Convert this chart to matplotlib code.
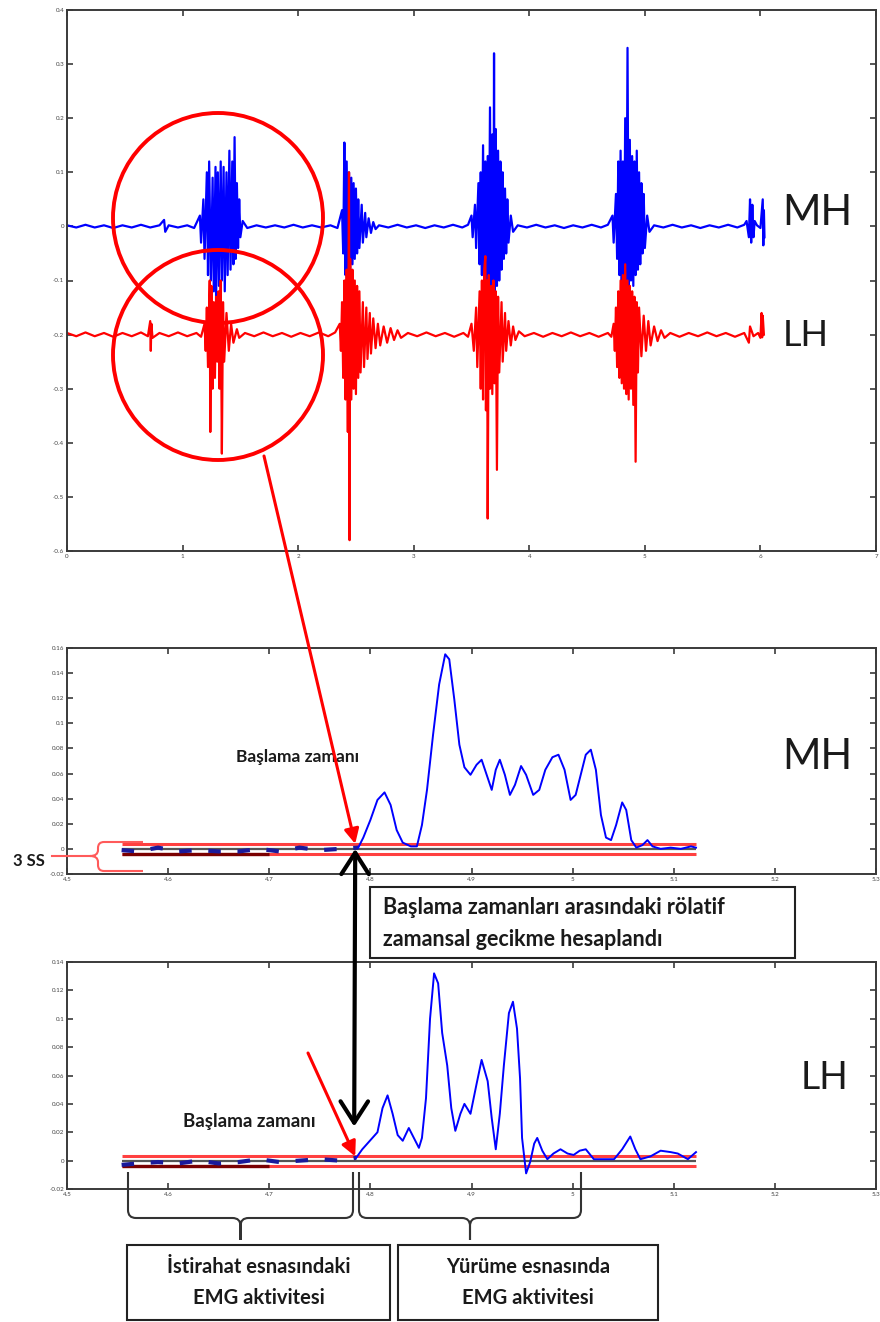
import matplotlib
matplotlib.use("Agg")
import matplotlib.pyplot as plt
import numpy as np
from matplotlib.patches import Circle, Rectangle, PathPatch, ConnectionPatch
from matplotlib.path import Path

plt.rcParams['font.family'] = ['Lato', 'DejaVu Sans']

# ---- raw EMG (top panel): sample times and amplitudes ----
mh_t = [0.00, 0.08, 0.16, 0.24, 0.32, 0.40, 0.48, 0.56, 0.64, 0.72, 0.80, 0.84, 0.85, 0.88, 0.96, 1.04, 1.10,
        1.15, 1.16, 1.18, 1.19, 1.21, 1.22, 1.23, 1.245, 1.26, 1.27, 1.285, 1.29, 1.305, 1.315, 1.33, 1.34,
        1.355, 1.365, 1.38, 1.39, 1.405, 1.415, 1.43, 1.44, 1.45, 1.46, 1.47, 1.48, 1.49, 1.50, 1.52,
        1.56, 1.64, 1.72, 1.80, 1.88, 1.96, 2.04, 2.12, 2.20, 2.28, 2.34,
        2.38, 2.39, 2.40, 2.41, 2.42, 2.43, 2.44, 2.45, 2.46, 2.47, 2.48, 2.49, 2.50, 2.51, 2.52, 2.53,
        2.55, 2.56, 2.58, 2.59, 2.61, 2.63, 2.65, 2.67,
        2.70, 2.78, 2.86, 2.94, 3.02, 3.10, 3.18, 3.26, 3.34, 3.42, 3.47,
        3.50, 3.51, 3.53, 3.54, 3.56, 3.57, 3.58, 3.59, 3.60, 3.61, 3.62, 3.63, 3.64, 3.65, 3.66, 3.67,
        3.68, 3.69, 3.695, 3.70, 3.71, 3.72, 3.73, 3.74, 3.75, 3.76, 3.77, 3.78, 3.79, 3.80, 3.81, 3.82,
        3.84, 3.86,
        3.90, 3.98, 4.06, 4.14, 4.22, 4.30, 4.38, 4.46, 4.54, 4.62, 4.68,
        4.72, 4.73, 4.75, 4.76, 4.77, 4.78, 4.79, 4.80, 4.81, 4.82, 4.83, 4.84, 4.85, 4.86, 4.87, 4.88,
        4.89, 4.90, 4.91, 4.92, 4.93, 4.94, 4.95, 4.96, 4.97, 4.98, 4.99, 5.00, 5.02, 5.04,
        5.08, 5.16, 5.24, 5.32, 5.40, 5.48, 5.56, 5.64, 5.72, 5.80, 5.86,
        5.88, 5.90, 5.91, 5.92, 5.93, 5.94, 5.95, 5.97, 6.00, 6.02, 6.025, 6.03, 6.035]
mh_v = [0.002, -0.002, 0.003, -0.002, 0.002, -0.003, 0.002, -0.002, 0.003, -0.002, 0.002, 0.012, -0.010, 0.002, -0.002, 0.002, -0.003,
        0.02, -0.03, 0.05, -0.06, 0.10, -0.09, 0.12, -0.10, 0.09, -0.12, 0.11, -0.135, 0.10, -0.11, 0.12, -0.10,
        0.11, -0.12, 0.10, -0.09, 0.14, -0.08, 0.12, -0.07, 0.165, -0.06, 0.08, -0.04, 0.05, -0.02, 0.01,
        -0.003, 0.002, -0.002, 0.002, -0.002, 0.003, -0.002, 0.002, -0.002, 0.002, -0.003,
        0.03, -0.05, 0.155, -0.09, 0.12, -0.10, 0.10, -0.08, 0.09, -0.07, 0.08, -0.06, 0.07, -0.05, 0.05, -0.04,
        0.04, -0.03, 0.025, -0.02, 0.015, -0.012, 0.008, -0.005,
        0.002, -0.002, 0.003, -0.002, 0.002, -0.003, 0.002, -0.002, 0.003, -0.002, 0.003,
        0.02, -0.02, 0.04, -0.04, 0.08, -0.07, 0.10, -0.09, 0.15, -0.10, 0.12, -0.11, 0.13, -0.10, 0.22, -0.12,
        0.17, -0.11, 0.32, -0.135, 0.18, -0.11, 0.14, -0.10, 0.12, -0.08, 0.10, -0.06, 0.07, -0.05, 0.05, -0.03,
        0.02, -0.01,
        0.002, -0.002, 0.003, -0.002, 0.002, -0.003, 0.002, -0.002, 0.003, -0.002, 0.003,
        0.02, -0.03, 0.06, -0.06, 0.12, -0.09, 0.14, -0.10, 0.12, -0.11, 0.20, -0.12, 0.33, -0.12, 0.16, -0.10,
        0.13, -0.11, 0.12, -0.09, 0.14, -0.08, 0.10, -0.07, 0.08, -0.05, 0.06, -0.04, 0.02, -0.01,
        0.002, -0.002, 0.003, -0.002, 0.002, -0.003, 0.002, -0.002, 0.003, -0.002, 0.003,
        0.01, -0.02, 0.05, -0.03, 0.04, -0.02, 0.01, 0.002, -0.003, 0.05, -0.035, 0.03, -0.02]

lh_t = [0.00, 0.08, 0.16, 0.24, 0.32, 0.40, 0.48, 0.56, 0.64, 0.70, 0.72, 0.725, 0.73, 0.74, 0.80, 0.88, 0.96, 1.04, 1.12, 1.16,
        1.19, 1.20, 1.21, 1.22, 1.235, 1.24, 1.25, 1.26, 1.27, 1.28, 1.29, 1.30, 1.31, 1.32, 1.33, 1.34,
        1.35, 1.36, 1.38, 1.40, 1.42, 1.44, 1.47, 1.49,
        1.54, 1.62, 1.70, 1.78, 1.86, 1.94, 2.02, 2.10, 2.18, 2.26, 2.32,
        2.36, 2.37, 2.38, 2.39, 2.40, 2.41, 2.42, 2.43, 2.44, 2.445, 2.45, 2.46, 2.47, 2.48, 2.49, 2.50,
        2.51, 2.52, 2.53, 2.54, 2.56, 2.57, 2.59, 2.60, 2.62, 2.63, 2.65, 2.67, 2.69, 2.71, 2.74, 2.77,
        2.80, 2.83, 2.86, 2.89,
        2.95, 3.03, 3.11, 3.19, 3.27, 3.35, 3.43, 3.47,
        3.50, 3.52, 3.54, 3.55, 3.57, 3.58, 3.59, 3.60, 3.61, 3.62, 3.625, 3.635, 3.64, 3.65, 3.66, 3.67,
        3.68, 3.69, 3.70, 3.71, 3.72, 3.73, 3.74, 3.76, 3.77, 3.79, 3.80, 3.82, 3.84, 3.86, 3.88, 3.91,
        3.96, 4.04, 4.12, 4.20, 4.28, 4.36, 4.44, 4.52, 4.60, 4.68, 4.71,
        4.73, 4.74, 4.75, 4.76, 4.77, 4.78, 4.79, 4.80, 4.81, 4.82, 4.83, 4.84, 4.85, 4.86, 4.87, 4.88,
        4.89, 4.90, 4.91, 4.92, 4.93, 4.94, 4.95, 4.97, 4.99, 5.01, 5.03, 5.05, 5.08, 5.11, 5.14, 5.17,
        5.22, 5.30, 5.38, 5.46, 5.54, 5.62, 5.70, 5.78, 5.86, 5.90, 5.91, 5.94, 5.98,
        6.00, 6.01, 6.015, 6.02, 6.03]
lh_v = [0.003, -0.003, 0.004, -0.003, 0.003, -0.004, 0.003, -0.003, 0.004, -0.003, 0.025, -0.03, 0.02, -0.006, 0.003, -0.003, 0.004, -0.003, 0.003, -0.004,
        0.02, -0.03, 0.05, -0.06, 0.10, -0.18, 0.09, -0.10, 0.06, -0.08, 0.07, -0.05, 0.08, -0.10, 0.10, -0.22,
        0.06, -0.05, 0.04, -0.03, 0.02, -0.015, 0.01, -0.006,
        0.003, -0.003, 0.004, -0.003, 0.003, -0.004, 0.003, -0.003, 0.004, -0.003, 0.004,
        0.02, -0.03, 0.06, -0.08, 0.10, -0.12, 0.12, -0.18, 0.30, -0.38, 0.14, -0.12, 0.12, -0.10, 0.10, -0.11,
        0.09, -0.08, 0.08, -0.07, 0.06, -0.06, 0.05, -0.045, 0.04, -0.035, 0.03, -0.025, 0.02, -0.02, 0.015, -0.015,
        0.012, -0.01, 0.008, -0.006,
        0.003, -0.003, 0.004, -0.003, 0.003, -0.004, 0.003, -0.004,
        0.02, -0.03, 0.05, -0.06, 0.08, -0.10, 0.10, -0.12, 0.12, 0.145, -0.14, 0.10, -0.34, 0.11, -0.10, 0.09,
        -0.11, 0.10, -0.09, 0.08, -0.25, 0.07, -0.07, 0.06, -0.05, 0.04, -0.03, 0.025, -0.02, 0.015, -0.01, 0.006,
        -0.003, 0.003, -0.004, 0.003, -0.003, 0.004, -0.003, 0.003, -0.004, 0.003, -0.004,
        0.02, -0.03, 0.05, -0.06, 0.08, -0.08, 0.10, -0.09, 0.11, -0.10, 0.13, -0.11, 0.10, -0.12, 0.09, -0.10,
        0.08, -0.13, 0.07, -0.235, 0.06, -0.07, 0.05, -0.04, 0.035, -0.03, 0.025, -0.02, 0.015, -0.012, 0.008, -0.006,
        0.003, -0.004, 0.003, -0.003, 0.004, -0.003, 0.003, -0.004, 0.003, -0.015, 0.015, -0.003, 0.003,
        -0.006, 0.04, -0.005, 0.035, 0.0]
lh_offset = -0.2

# ---- smoothed envelopes around the onset (middle / bottom panels) ----
mh_env_t = [4.554, 4.57, 4.59, 4.61, 4.63, 4.65, 4.67, 4.69, 4.71, 4.73, 4.75, 4.77, 4.788,
            4.793, 4.800, 4.807, 4.814, 4.820, 4.826, 4.832, 4.840, 4.846, 4.851, 4.856, 4.862, 4.868,
            4.874, 4.878, 4.883, 4.888, 4.893, 4.899, 4.905, 4.910, 4.915, 4.920, 4.924, 4.928, 4.933,
            4.938, 4.943, 4.949, 4.954, 4.961, 4.967, 4.973, 4.980, 4.986, 4.992, 4.998, 5.003, 5.008,
            5.013, 5.018, 5.023, 5.028, 5.033, 5.038, 5.043, 5.049, 5.053, 5.058, 5.063, 5.069, 5.074,
            5.079, 5.087, 5.097, 5.107, 5.117, 5.122]
mh_env_v = [-0.001, -0.002, 0.001, -0.002, -0.001, -0.002, -0.002, 0.0, -0.002, 0.001, -0.001, 0.0, 0.001,
            0.009, 0.023, 0.039, 0.045, 0.035, 0.015, 0.005, 0.002, 0.002, 0.019, 0.047, 0.091, 0.131,
            0.155, 0.151, 0.119, 0.083, 0.065, 0.059, 0.067, 0.071, 0.059, 0.047, 0.063, 0.071, 0.059,
            0.043, 0.051, 0.066, 0.059, 0.043, 0.047, 0.063, 0.073, 0.075, 0.063, 0.039, 0.043, 0.059,
            0.075, 0.079, 0.063, 0.027, 0.009, 0.007, 0.019, 0.037, 0.031, 0.007, 0.001, 0.003, 0.007,
            0.002, 0.0, 0.001, 0.0, 0.002, 0.001]
mh_onset_idx = 12

lh_env_t = [4.554, 4.57, 4.59, 4.61, 4.63, 4.65, 4.67, 4.69, 4.71, 4.73, 4.75, 4.77, 4.786,
            4.792, 4.797, 4.802, 4.807, 4.812, 4.817, 4.822, 4.827, 4.832, 4.838, 4.843, 4.848, 4.851,
            4.855, 4.859, 4.863, 4.867, 4.871, 4.876, 4.880, 4.884, 4.889, 4.893, 4.899, 4.905, 4.910,
            4.916, 4.920, 4.924, 4.928, 4.932, 4.937, 4.941, 4.945, 4.948, 4.950, 4.954, 4.958, 4.962,
            4.965, 4.970, 4.975, 4.981, 4.988, 4.995, 5.001, 5.007, 5.013, 5.021, 5.031, 5.041, 5.049,
            5.057, 5.062, 5.067, 5.077, 5.087, 5.097, 5.104, 5.114, 5.122]
lh_env_v = [-0.003, -0.002, -0.001, -0.002, 0.0, -0.002, -0.001, 0.001, -0.001, 0.0, 0.001, 0.0, 0.002,
            0.008, 0.012, 0.016, 0.020, 0.037, 0.046, 0.033, 0.018, 0.014, 0.023, 0.016, 0.009, 0.016,
            0.044, 0.100, 0.132, 0.125, 0.090, 0.067, 0.037, 0.021, 0.033, 0.040, 0.033, 0.054, 0.071,
            0.056, 0.030, 0.008, 0.033, 0.067, 0.104, 0.112, 0.093, 0.058, 0.016, -0.009, -0.001, 0.012,
            0.016, 0.007, 0.001, 0.005, 0.008, 0.005, 0.004, 0.007, 0.008, 0.001, 0.001, 0.001, 0.008,
            0.017, 0.008, 0.001, 0.003, 0.007, 0.006, 0.005, 0.001, 0.006]
lh_onset_idx = 12

# rest-window mean and threshold band (mean +/- 3 SD)
mh_band = [0.004, -0.004]
lh_band = [0.003, -0.004]
rest_start, rest_end = 4.554, 4.70
env_end = 5.122

top_xticks = [0, 1, 2, 3, 4, 5, 6, 7]
top_yticks = [-0.6, -0.5, -0.4, -0.3, -0.2, -0.1, 0, 0.1, 0.2, 0.3, 0.4]
zoom_xticks = [4.5, 4.6, 4.7, 4.8, 4.9, 5.0, 5.1, 5.2, 5.3]
mh_yticks = [-0.02, 0, 0.02, 0.04, 0.06, 0.08, 0.1, 0.12, 0.14, 0.16]
lh_yticks = [-0.02, 0, 0.02, 0.04, 0.06, 0.08, 0.1, 0.12, 0.14]

W, H = 880, 1322
fig = plt.figure(figsize=(W / 100, H / 100), dpi=100)


def box_px(x0, y0, x1, y1):
    return [x0 / W, 1 - y1 / H, (x1 - x0) / W, (y1 - y0) / H]


def matlab_axes(ax, xt, yt):
    ax.set_xticks(xt)
    ax.set_yticks(yt)
    ax.set_xticklabels([f'{v:g}' for v in xt])
    ax.set_yticklabels([f'{v:g}' for v in yt])
    ax.tick_params(direction='in', top=True, right=True, length=4, width=1.1,
                   labelsize=4.5, pad=2, color='#2a2a2a', labelcolor='#444444')
    for s in ax.spines.values():
        s.set_linewidth(1.4)
        s.set_color('#3a3a3a')


ax1 = fig.add_axes(box_px(67, 10, 876, 551))
ax2 = fig.add_axes(box_px(67, 648, 876, 874))
ax3 = fig.add_axes(box_px(67, 962, 876, 1189))

# raw EMG
ax1.plot(mh_t, mh_v, color='#0000ff', lw=1.6)
ax1.plot(lh_t, np.array(lh_v) + lh_offset, color='#ff0000', lw=1.6)
ax1.set_xlim(0, 7)
ax1.set_ylim(-0.6, 0.4)
matlab_axes(ax1, top_xticks, top_yticks)


def envelope_panel(ax, t, v, onset_idx, band, ylim, yt):
    ax.hlines(band, rest_start, env_end, color='#ff4040', lw=2.2, zorder=2)
    ax.hlines(0, rest_start, env_end, color='#555555', lw=1.6, zorder=2)
    ax.hlines(band[1], rest_start, rest_end, color='#7a0000', lw=2.4, zorder=3)
    ax.plot(t[:onset_idx + 1], v[:onset_idx + 1], color='#1a1a9a', lw=3,
            ls=(0, (3, 4)), zorder=4)
    ax.plot(t[onset_idx:], v[onset_idx:], color='#0000ff', lw=1.4, zorder=5)
    ax.set_xlim(4.5, 5.3)
    ax.set_ylim(*ylim)
    matlab_axes(ax, zoom_xticks, yt)


envelope_panel(ax2, mh_env_t, mh_env_v, mh_onset_idx, mh_band, (-0.02, 0.16), mh_yticks)
envelope_panel(ax3, lh_env_t, lh_env_v, lh_onset_idx, lh_band, (-0.02, 0.14), lh_yticks)

# overlay in pixel coordinates for annotations
ov = fig.add_axes([0, 0, 1, 1], zorder=5)
ov.set_xlim(0, W)
ov.set_ylim(H, 0)
ov.axis('off')

for cy in (218, 355):
    ov.add_patch(Circle((218, cy), 105, fill=False, ec='#ff0000', lw=2.8))

txt = dict(color='#1a1a1a', family=['Lato', 'DejaVu Sans'])
ov.text(817, 213, 'MH', fontsize=30, ha='center', va='center', **txt)
ov.text(806, 336, 'LH', fontsize=26, ha='center', va='center', **txt)
ov.text(817, 757, 'MH', fontsize=30, ha='center', va='center', **txt)
ov.text(824, 1078, 'LH', fontsize=27, ha='center', va='center', **txt)
ov.text(298, 757, 'Başlama zamanı', fontsize=12.5, fontweight='bold', ha='center', va='center', **txt)
ov.text(249, 1121, 'Başlama zamanı', fontsize=13.5, fontweight='bold', ha='center', va='center', **txt)
ov.text(29, 861, '3 SS', fontsize=12, fontweight='bold', ha='center', va='center', **txt)

# boxes
ov.add_patch(Rectangle((370, 887), 425, 71, fc='white', ec='#222222', lw=1.5))
ov.text(383, 907, 'Başlama zamanları arasındaki rölatif', fontsize=15.5, fontweight='bold',
        ha='left', va='center', **txt)
ov.text(383, 940, 'zamansal gecikme hesaplandı', fontsize=15.5, fontweight='bold',
        ha='left', va='center', **txt)
ov.add_patch(Rectangle((127, 1245), 263, 75, fc='white', ec='#222222', lw=1.5))
ov.add_patch(Rectangle((398, 1245), 260, 75, fc='white', ec='#222222', lw=1.5))
ov.text(259, 1267, 'İstirahat esnasındaki', fontsize=14.5, fontweight='bold', ha='center', va='center', **txt)
ov.text(259, 1298, 'EMG aktivitesi', fontsize=14.5, fontweight='bold', ha='center', va='center', **txt)
ov.text(528, 1267, 'Yürüme esnasında', fontsize=14.5, fontweight='bold', ha='center', va='center', **txt)
ov.text(528, 1298, 'EMG aktivitesi', fontsize=14.5, fontweight='bold', ha='center', va='center', **txt)


def brace_down(x0, x1, y_top, y_mid, y_tip, r=8, **kw):
    xm = (x0 + x1) / 2
    verts = [(x0, y_top), (x0, y_mid - r), (x0, y_mid), (x0 + r, y_mid),
             (xm - r, y_mid), (xm, y_mid), (xm, y_mid + r), (xm, y_tip),
             (xm, y_mid + r), (xm, y_mid), (xm + r, y_mid),
             (x1 - r, y_mid), (x1, y_mid), (x1, y_mid - r), (x1, y_top)]
    codes = [Path.MOVETO, Path.LINETO, Path.CURVE3, Path.CURVE3,
             Path.LINETO, Path.CURVE3, Path.CURVE3, Path.LINETO,
             Path.LINETO, Path.CURVE3, Path.CURVE3,
             Path.LINETO, Path.CURVE3, Path.CURVE3, Path.LINETO]
    ov.add_patch(PathPatch(Path(verts, codes), fill=False, **kw))


brace_down(128, 353, 1172, 1218, 1240, ec='#333333', lw=1.5)
brace_down(359, 581, 1172, 1218, 1240, ec='#333333', lw=1.5)

# 3 SD bracket on the left of the MH envelope
bx, ya, ytip, yb, xa, r = 98, 842, 856, 871, 143, 6
verts = [(xa, ya), (bx + r, ya), (bx, ya), (bx, ya + r), (bx, ytip - r), (bx, ytip), (bx - 8, ytip),
         (bx, ytip), (bx, ytip + r), (bx, yb - r), (bx, yb), (bx + r, yb), (xa, yb)]
codes = [Path.MOVETO, Path.LINETO, Path.CURVE3, Path.CURVE3, Path.LINETO, Path.CURVE3, Path.CURVE3,
         Path.CURVE3, Path.CURVE3, Path.LINETO, Path.CURVE3, Path.CURVE3, Path.LINETO]
ov.add_patch(PathPatch(Path(verts, codes), fill=False, ec='#ff5a5a', lw=1.5))
ov.plot([52, bx - 8], [ytip, ytip], color='#ff5a5a', lw=1.5)

# arrows
mh_onset = mh_env_t[mh_onset_idx]
lh_onset = lh_env_t[lh_onset_idx]
a1 = ConnectionPatch((264, 456), (mh_onset - 0.003, mh_band[0]), coordsA=ov.transData, coordsB=ax2.transData,
                     arrowstyle='-|>', mutation_scale=22, color='#ff0000', lw=2.2, zorder=10)
fig.add_artist(a1)
a2 = ConnectionPatch((mh_onset - 0.003, 0.0), (lh_onset - 0.002, 0.024), coordsA=ax2.transData,
                     coordsB=ax3.transData, arrowstyle='<->,head_length=0.7,head_width=0.45',
                     mutation_scale=22, color='black', lw=3, zorder=10)
fig.add_artist(a2)
a3 = ConnectionPatch((308, 1053), (lh_onset - 0.001, lh_band[0]), coordsA=ov.transData, coordsB=ax3.transData,
                     arrowstyle='-|>', mutation_scale=22, color='#ff0000', lw=2.2, zorder=10)
fig.add_artist(a3)

fig.savefig('out.png', dpi=100)
